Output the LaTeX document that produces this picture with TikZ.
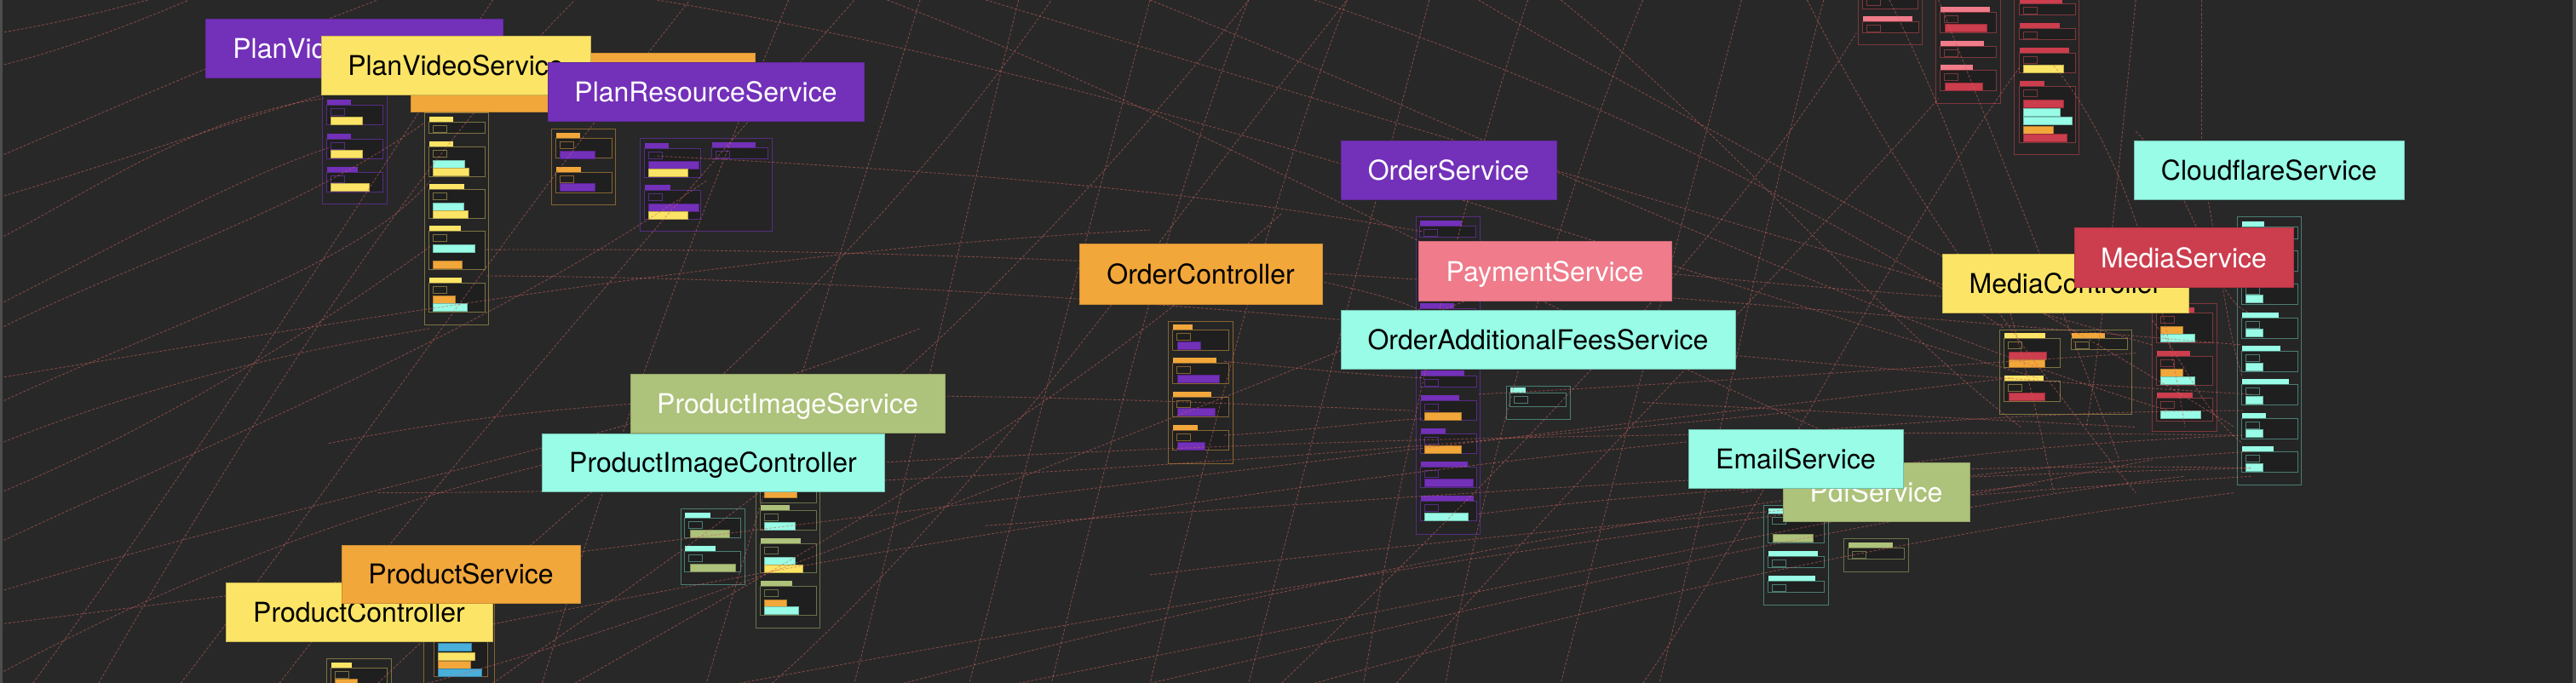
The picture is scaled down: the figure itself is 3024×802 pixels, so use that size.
\documentclass[tikz,border=0pt]{standalone}
\usepackage{fontspec}
\setmainfont{TeX Gyre Heros}
\definecolor{bg}{RGB}{40,40,40}
\definecolor{edgec}{RGB}{78,78,78}
\definecolor{contfill}{RGB}{37,37,37}
\definecolor{ifill}{RGB}{31,31,31}
\definecolor{wirec}{RGB}{205,100,95}
\definecolor{cP}{RGB}{115,48,185}
\definecolor{cY}{RGB}{252,229,102}
\definecolor{cO}{RGB}{242,167,59}
\definecolor{cK}{RGB}{239,123,139}
\definecolor{cA}{RGB}{152,252,230}
\definecolor{cG}{RGB}{173,194,122}
\definecolor{cR}{RGB}{204,61,78}
\definecolor{cB}{RGB}{74,175,218}
\definecolor{pOut}{RGB}{85,45,130}
\definecolor{yOut}{RGB}{125,115,65}
\definecolor{oOut}{RGB}{135,100,50}
\definecolor{tOut}{RGB}{75,125,115}
\definecolor{rOut}{RGB}{125,55,60}
\definecolor{gOut}{RGB}{105,115,75}
\tikzset{
  cont/.style={line width=1pt, fill=contfill, draw=#1},
  lab/.style={inner sep=0pt, outer sep=0pt, anchor=north west, line width=1pt,
    font=\fontsize{32pt}{32pt}\selectfont, text height=23pt, text depth=0pt},
  wire/.style={draw=wirec, line width=0.9pt, dash pattern=on 3pt off 2pt, opacity=0.55},
}
\newcommand\mgroup[6]{%
  \fill[#5] (#1,#2) rectangle ++(#3,6);
  \draw[line width=0.8pt,draw=#6,fill=ifill] (#1-1,#2+6) rectangle ++(66,#4);
  \draw[line width=0.7pt,draw=#6,fill=ifill] (#1+4,#2+10) rectangle ++(16,8);
}
\newcommand\callbar[4]{\draw[line width=0.6pt,draw=#4!75!black,fill=#4] (#1,#2) rectangle ++(#3,9);}
\begin{document}
\begin{tikzpicture}[x=1pt,y=-1pt]
\useasboundingbox (0,0) rectangle (3024,802);
\fill[bg] (0,0) rectangle (3024,802);
\begin{scope}
\clip (0,0) rectangle (3024,802);
% ---------- containers ----------
% PlanVideoController
\path[cont=pOut] (378,112) rectangle (454,240);
\mgroup{384}{117}{28}{23}{cP}{pOut} \callbar{388}{137}{37}{cY}
\mgroup{384}{157}{28}{23}{cP}{pOut} \callbar{388}{176}{37}{cY}
\mgroup{384}{196}{36}{23}{cP}{pOut} \callbar{388}{215}{45}{cY}
% PlanVideoService
\path[cont=yOut] (498,133) rectangle (573,381);
\mgroup{504}{137}{28}{13}{cY}{yOut}
\mgroup{504}{166}{28}{35}{cY}{yOut} \callbar{508}{188}{37}{cA} \callbar{508}{197}{42}{cY}
\mgroup{504}{216}{41}{34}{cY}{yOut} \callbar{508}{238}{36}{cA} \callbar{508}{247}{41}{cY}
\mgroup{504}{265}{37}{45}{cY}{yOut} \callbar{508}{287}{49}{cA} \callbar{508}{306}{34}{cO}
\mgroup{504}{326}{38}{34}{cY}{yOut} \callbar{508}{347}{26}{cO} \callbar{508}{356}{40}{cA}
% PlanResourceController
\path[cont=oOut] (647,152) rectangle (722,241);
\mgroup{653}{156}{28}{23}{cO}{oOut} \callbar{657}{177}{41}{cP}
\mgroup{653}{196}{29}{24}{cO}{oOut} \callbar{657}{215}{41}{cP}
% PlanResourceService
\path[cont=pOut] (751,163) rectangle (906,272);
\mgroup{757}{168}{28}{34}{cP}{pOut} \callbar{761}{189}{59}{cP} \callbar{761}{198}{46}{cY}
\mgroup{757}{217}{30}{34}{cP}{pOut} \callbar{761}{239}{59}{cP} \callbar{761}{248}{46}{cY}
\mgroup{836}{167}{51}{13}{cP}{pOut}
% OrderController
\path[cont=oOut] (1371,377) rectangle (1447,544);
\mgroup{1377}{381}{23}{24}{cO}{oOut} \callbar{1382}{401}{27}{cP}
\mgroup{1377}{420}{51}{24}{cO}{oOut} \callbar{1382}{440}{49}{cP}
\mgroup{1377}{460}{45}{23}{cO}{oOut} \callbar{1382}{479}{44}{cP}
\mgroup{1377}{499}{29}{23}{cO}{oOut} \callbar{1382}{519}{32}{cP}
% OrderService
\path[cont=pOut] (1662,255) rectangle (1737,627);
\mgroup{1667}{259}{49}{13}{cP}{pOut}
\mgroup{1667}{356}{40}{13}{cP}{pOut}
\mgroup{1667}{396}{45}{13}{cP}{pOut}
\mgroup{1668}{435}{51}{13}{cP}{pOut}
\mgroup{1668}{464}{45}{23}{cP}{pOut} \callbar{1672}{484}{43}{cO}
\mgroup{1668}{503}{29}{23}{cP}{pOut} \callbar{1672}{523}{43}{cO}
\mgroup{1668}{542}{55}{24}{cP}{pOut} \callbar{1672}{562}{57}{cP}
\mgroup{1668}{582}{62}{23}{cP}{pOut} \callbar{1672}{602}{51}{cA}
% OrderAdditionalFeesService
\path[cont=tOut] (1768,453) rectangle (1843,492);
\mgroup{1773}{455}{18}{16}{cA}{tOut}
% EmailService
\path[cont=tOut] (2070,593) rectangle (2146,710);
\mgroup{2076}{597}{40}{34}{cA}{tOut} \callbar{2081}{627}{47}{cG}
\mgroup{2076}{647}{58}{13}{cA}{tOut}
\mgroup{2076}{676}{55}{13}{cA}{tOut}
% PdfService
\path[cont=gOut] (2164,632) rectangle (2240,671);
\mgroup{2170}{637}{52}{13}{cG}{gOut}
% MediaController
\path[cont=yOut] (2347,387) rectangle (2502,486);
\mgroup{2353}{391}{48}{34}{cY}{yOut} \callbar{2358}{413}{44}{cR} \callbar{2358}{422}{42}{cO}
\mgroup{2353}{441}{46}{24}{cY}{yOut} \callbar{2358}{461}{42}{cR}
\mgroup{2432}{391}{39}{13}{cO}{yOut}
% MediaService
\path[cont=rOut] (2526,356) rectangle (2602,506);
\mgroup{2532}{361}{44}{35}{cR}{rOut} \callbar{2536}{383}{26}{cO} \callbar{2536}{392}{40}{cA}
\mgroup{2532}{412}{39}{34}{cR}{rOut} \callbar{2536}{433}{26}{cO} \callbar{2536}{442}{40}{cA}
\mgroup{2532}{461}{42}{27}{cR}{rOut} \callbar{2536}{482}{47}{cA}
% CloudflareService
\path[cont=tOut] (2626,255) rectangle (2701,569);
\mgroup{2632}{260}{26}{14}{cA}{tOut}
\mgroup{2632}{288}{30}{24}{cA}{tOut}
\mgroup{2632}{327}{30}{24}{cA}{tOut} \callbar{2636}{346}{20}{cA}
\mgroup{2632}{367}{43}{24}{cA}{tOut} \callbar{2636}{386}{20}{cA}
\mgroup{2632}{406}{45}{24}{cA}{tOut} \callbar{2636}{426}{20}{cA}
\mgroup{2632}{445}{55}{24}{cA}{tOut} \callbar{2636}{465}{20}{cA}
\mgroup{2632}{485}{28}{24}{cA}{tOut} \callbar{2636}{504}{20}{cA}
\mgroup{2632}{524}{37}{24}{cA}{tOut} \callbar{2636}{544}{20}{cA}
% top containers
\path[cont=rOut] (2181,-10) rectangle (2256,53);
\draw[line width=0.8pt,draw=rOut,fill=ifill] (2186,-10) rectangle (2251,10);
\draw[line width=0.7pt,draw=rOut,fill=ifill] (2191,-2) rectangle (2207,6);
\mgroup{2187}{19}{58}{13}{cK}{rOut}
\path[cont=rOut] (2272,-10) rectangle (2348,122);
\mgroup{2278}{8}{58}{24}{cK}{rOut} \callbar{2283}{28}{49}{cR}
\mgroup{2278}{48}{51}{13}{cK}{rOut}
\mgroup{2278}{76}{38}{24}{cK}{rOut} \callbar{2283}{97}{44}{cR}
\path[cont=rOut] (2364,-10) rectangle (2440,182);
\mgroup{2371}{-2}{50}{13}{cR}{rOut}
\mgroup{2371}{27}{47}{13}{cR}{rOut}
\mgroup{2371}{56}{58}{23}{cR}{rOut} \callbar{2375}{76}{47}{cY}
\mgroup{2371}{95}{29}{66}{cR}{rOut} \callbar{2375}{117}{47}{cR} \callbar{2375}{127}{43}{cA}
\callbar{2375}{137}{57}{cA} \callbar{2375}{148}{35}{cO} \callbar{2375}{157}{51}{cR}
% ProductImageController
\path[cont=tOut] (799,597) rectangle (874,686);
\mgroup{804}{602}{30}{23}{cA}{tOut} \callbar{810}{622}{46}{cG}
\mgroup{804}{641}{36}{24}{cA}{tOut} \callbar{810}{662}{53}{cG}
% ProductImageService
\path[cont=gOut] (887,545) rectangle (962,737);
\mgroup{893}{548}{40}{36}{cG}{gOut} \callbar{897}{566}{36}{cA} \callbar{897}{575}{38}{cO}
\mgroup{893}{593}{34}{23}{cG}{gOut} \callbar{897}{613}{36}{cA}
\mgroup{893}{632}{47}{34}{cG}{gOut} \callbar{897}{654}{36}{cA} \callbar{897}{663}{45}{cY}
\mgroup{893}{682}{37}{34}{cG}{gOut} \callbar{897}{704}{26}{cO} \callbar{897}{712}{40}{cA}
% ProductService
\path[cont=oOut] (497,700) rectangle (580,815);
\draw[line width=0.8pt,draw=oOut,fill=ifill] (509,712) rectangle (572,794);
\callbar{514}{755}{39}{cB} \callbar{514}{766}{43}{cY} \callbar{514}{776}{38}{cO} \callbar{514}{785}{51}{cB}
% ProductController
\path[cont=yOut] (383,773) rectangle (459,815);
\mgroup{389}{778}{24}{30}{cY}{yOut} \callbar{393}{797}{26}{cO}
% ---------- connectors ----------
\begin{scope}[x=1.9286pt,y=-1.9286pt]
\foreach \ax/\ay/\bx/\by/\cx/\cy/\dx/\dy in {
0/40/40/30/80/15/115/0, 0/95/60/70/150/30/230/0, 0/185/70/150/140/110/200/90,
0/200/80/160/180/130/258/75, 0/245/120/190/220/160/262/110, 0/330/150/260/300/200/430/110,
0/360/200/300/380/270/560/200, 0/300/120/250/220/180/262/150, 20/416/120/280/220/120/300/0,
60/416/150/260/250/100/350/0, 110/416/200/300/300/150/420/0, 0/410/150/330/300/280/500/250,
170/416/260/300/380/160/520/0, 0/270/100/230/200/210/262/200, 0/145/50/120/120/70/197/60,
0/20/30/15/60/8/90/0, 0/120/100/90/180/60/260/40,
230/416/350/300/500/200/640/0, 300/416/420/330/560/250/760/0, 260/416/400/380/600/300/900/180,
350/416/500/330/650/250/780/130, 470/416/600/300/700/150/820/0, 200/270/400/230/600/240/860/250,
230/300/500/300/800/280/1100/250, 0/230/300/180/500/150/700/140, 400/95/700/110/800/130/866/141,
820/0/780/100/740/250/700/416, 870/0/830/150/790/300/760/416, 930/0/880/150/850/300/830/416,
1000/0/950/120/900/300/880/416, 1060/0/1020/150/980/300/950/416, 1110/0/1070/150/1040/300/1010/416,
760/0/720/100/680/250/640/416, 700/0/660/150/620/300/590/416, 620/0/590/120/560/260/520/416,
480/0/430/120/380/250/330/416, 560/0/520/130/470/280/430/416,
600/0/800/60/1100/150/1310/210, 700/0/900/80/1150/200/1320/250, 540/0/750/80/950/200/1200/300,
900/0/1000/60/1200/160/1360/260, 950/0/1050/80/1150/200/1230/260, 800/0/950/50/1100/120/1220/200,
400/0/700/50/1000/160/1240/230,
850/416/950/300/1100/150/1180/60, 1000/416/1080/300/1150/150/1230/40, 780/416/900/300/1050/150/1130/20,
1150/0/1200/100/1230/200/1250/300, 1180/0/1220/100/1260/200/1290/280, 1250/40/1300/100/1320/200/1330/260,
1300/0/1290/100/1280/200/1270/260, 1100/0/1150/100/1220/200/1300/300, 1340/0/1340/40/1340/70/1340/90,
400/290/700/270/1000/260/1360/265, 600/320/900/300/1150/280/1370/285, 700/350/950/320/1200/300/1370/290,
296/152/700/150/1000/180/1365/210, 296/168/700/170/1000/220/1370/240, 300/380/700/300/1100/250/1365/250,
550/416/800/350/1100/290/1370/275, 0/380/400/330/800/280/1225/230, 1060/300/1150/280/1250/270/1365/265,
745/220/800/225/850/230/866/230, 745/265/800/262/850/255/866/255, 745/160/800/170/850/180/866/190,
1000/245/1100/250/1200/255/1300/260, 950/160/1050/170/1150/180/1265/185, 900/313/1000/300/1150/290/1370/285,
900/240/1000/235/1150/225/1300/215,
620/416/800/380/1100/320/1310/280, 700/416/900/370/1150/310/1330/290, 800/416/1000/360/1200/320/1360/300,
450/416/700/370/1000/320/1240/295,
1310/195/1330/220/1340/250/1365/270, 1340/100/1350/150/1355/200/1365/230, 1300/80/1340/120/1345/180/1368/190}
  \draw[wire] (\ax,\ay) .. controls (\bx,\by) and (\cx,\cy) .. (\dx,\dy);
\end{scope}
\end{scope}
% ---------- labels ----------
\node[lab, fill=cP, draw=cP!85!black, text=white, minimum width=349pt, minimum height=69pt] (pvc) at (241,23) {PlanVideoController};
\node[lab, fill=cO, draw=cO!85!black, minimum width=404pt, minimum height=69pt] (prc) at (482,63) {};
\node[lab, fill=cY, draw=cY!80!black, text=black, minimum width=316pt, minimum height=69pt] (pvs) at (377,43) {PlanVideoService};
\node[lab, fill=cP, draw=cP!85!black, text=white, minimum width=371pt, minimum height=69pt] (prs) at (643,74) {PlanResourceService};
\node[lab, fill=cP, draw=cP!85!black, text=white, minimum width=253pt, minimum height=69pt] (os) at (1574,166) {OrderService};
\node[lab, fill=cO, draw=cO!85!black, text=black, minimum width=285pt, minimum height=70pt] (oc) at (1267,287) {OrderController};
\node[lab, fill=cK, draw=cK!85!black, text=white, minimum width=297pt, minimum height=69pt] (ps) at (1665,284) {PaymentService};
\node[lab, fill=cA, draw=cA!75!black, text=black, minimum width=463pt, minimum height=69pt] (oaf) at (1574,364) {OrderAdditionalFeesService};
\node[lab, fill=cA, draw=cA!75!black, text=black, minimum width=317pt, minimum height=69pt] (cs) at (2505,166) {CloudflareService};
\node[lab, fill=cY, draw=cY!80!black, text=black, minimum width=289pt, minimum height=69pt] (mc) at (2280,298) {MediaController};
\node[lab, fill=cR, draw=cR!85!black, text=white, minimum width=257pt, minimum height=69pt] (ms) at (2435,268) {MediaService};
\node[lab, fill=cG, draw=cG!85!black, text=white, minimum width=219pt, minimum height=69pt] (pdf) at (2093,543) {PdfService};
\node[lab, fill=cA, draw=cA!75!black, text=black, minimum width=252pt, minimum height=69pt] (es) at (1982,504) {EmailService};
\node[lab, fill=cG, draw=cG!85!black, text=white, minimum width=369pt, minimum height=69pt] (pis) at (740,439) {ProductImageService};
\node[lab, fill=cA, draw=cA!75!black, text=black, minimum width=402pt, minimum height=68pt] (pic) at (636,509) {ProductImageController};
\node[lab, fill=cY, draw=cY!80!black, text=black, minimum width=313pt, minimum height=69pt] (prctl) at (265,684) {ProductController};
\node[lab, fill=cO, draw=cO!85!black, text=black, minimum width=280pt, minimum height=68pt] (prsvc) at (401,640) {ProductService};
% frame edges
\fill[edgec] (0,0) rectangle (3,802);
\fill[edgec] (3020,0) rectangle (3024,802);
\end{tikzpicture}
\end{document}
